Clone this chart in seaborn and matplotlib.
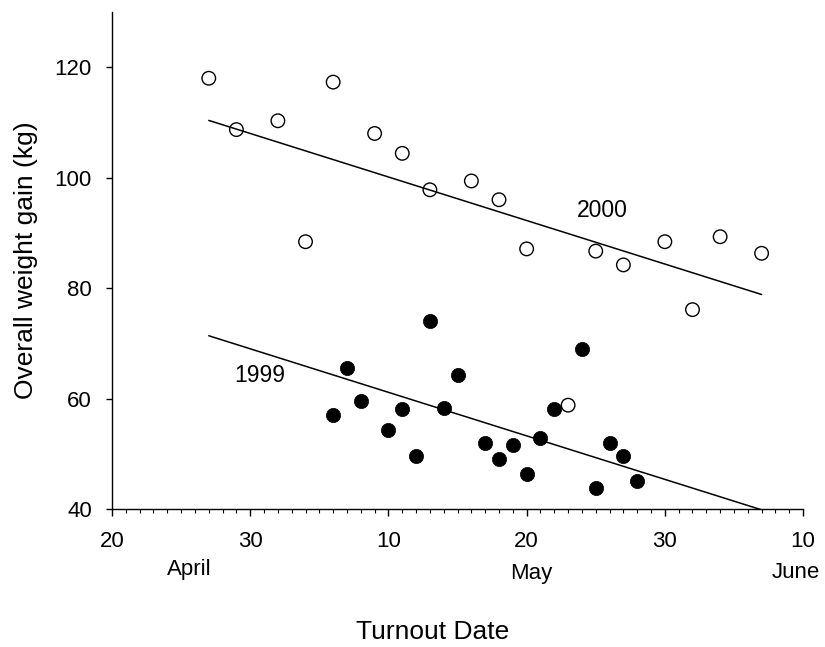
import numpy as np
import pandas as pd
import matplotlib
matplotlib.use("Agg")
import matplotlib.pyplot as plt
import matplotlib.transforms as mtransforms
from matplotlib.ticker import MultipleLocator
import seaborn as sns

# turnout date as day of year, overall weight gain in kg
days_1999 = [126, 127, 128, 130, 131, 132, 133, 134, 135, 137,
             138, 139, 140, 141, 142, 144, 145, 146, 147, 148]
gain_1999 = [57.1, 65.5, 59.6, 54.3, 58.1, 49.6, 74.0, 58.3, 64.2, 51.9,
             49.1, 51.6, 46.4, 52.8, 58.1, 68.9, 43.8, 51.9, 49.6, 45.0]
days_2000 = [117, 119, 122, 124, 126, 129, 131, 133, 136, 138,
             140, 143, 145, 147, 150, 152, 154, 157]
gain_2000 = [118.0, 108.7, 110.3, 88.4, 117.3, 108.0, 104.4, 97.8, 99.4, 96.0,
             87.1, 58.8, 86.7, 84.2, 88.4, 76.1, 89.3, 86.3]

tick_days = [110, 120, 130, 140, 150, 160]
tick_labels = ["20", "30", "10", "20", "30", "10"]
months = ["April", "May", "June"]

sns.set_style("ticks", {"axes.edgecolor": "black", "text.color": "black",
                        "xtick.color": "black", "ytick.color": "black",
                        "axes.labelcolor": "black"})
plt.rcParams["font.family"] = ["Liberation Sans", "DejaVu Sans"]

df = pd.concat([
    pd.DataFrame({"year": 1999, "day": days_1999, "gain": gain_1999}),
    pd.DataFrame({"year": 2000, "day": days_2000, "gain": gain_2000}),
], ignore_index=True)

# common slope fit (parallel lines for the two years)
dx = df["day"] - df.groupby("year")["day"].transform("mean")
dy = df["gain"] - df.groupby("year")["gain"].transform("mean")
slope = (dx * dy).sum() / (dx * dx).sum()
x_fit = [df["day"].min(), df["day"].max()]
rows = []
for yr, g in df.groupby("year"):
    b = g["gain"].mean() - slope * g["day"].mean()
    for x in x_fit:
        rows.append({"year": yr, "day": x, "gain": b + slope * x})
fit = pd.DataFrame(rows)

fig = plt.figure(figsize=(8.25, 6.47), dpi=100)
ax = fig.add_axes([0.1358, 0.2133, 0.8376, 0.7682])

sns.scatterplot(data=df[df.year == 1999], x="day", y="gain", ax=ax,
                color="black", edgecolor="black", s=105, linewidth=0.5, zorder=2)
sns.scatterplot(data=df[df.year == 2000], x="day", y="gain", ax=ax,
                facecolor="none", edgecolor="black", s=95, linewidth=1.0, zorder=2)
sns.lineplot(data=fit, x="day", y="gain", units="year", estimator=None,
             color="black", lw=1.1, ax=ax, zorder=3)

ax.text(145.5, 94.0, "2000", fontsize=16.5, ha="center", va="center")
ax.text(120.7, 64.2, "1999", fontsize=16.5, ha="center", va="center")

ax.set_xlim(110, 160)
ax.set_ylim(40, 130)
ax.set_xticks(tick_days)
ax.set_xticklabels(tick_labels)
ax.xaxis.set_minor_locator(MultipleLocator(1))
ax.set_yticks([40, 60, 80, 100, 120])

sns.despine(ax=ax)
for sp in ax.spines.values():
    sp.set_linewidth(1.0)
ax.tick_params(axis="x", which="major", length=5, width=1.0, pad=11, labelsize=16)
ax.tick_params(axis="x", which="minor", length=3, width=0.8)
ax.tick_params(axis="y", which="major", length=4.5, width=1.0, pad=10, labelsize=16)

trans = mtransforms.blended_transform_factory(ax.transData, ax.transAxes)
for name, xd, yb in zip(months, [115.6, 140.3, 159.5], [-0.1328, -0.1408, -0.1388]):
    ax.text(xd, yb, name, transform=trans, fontsize=16, ha="center", va="baseline")

ax.set_xlabel("Turnout Date", fontsize=19)
ax.set_ylabel("Overall weight gain (kg)", fontsize=19)
ax.xaxis.set_label_coords(0.4643, -0.2233)
ax.yaxis.set_label_coords(-0.1078, 0.5)

fig.savefig("out.png", dpi=100)
